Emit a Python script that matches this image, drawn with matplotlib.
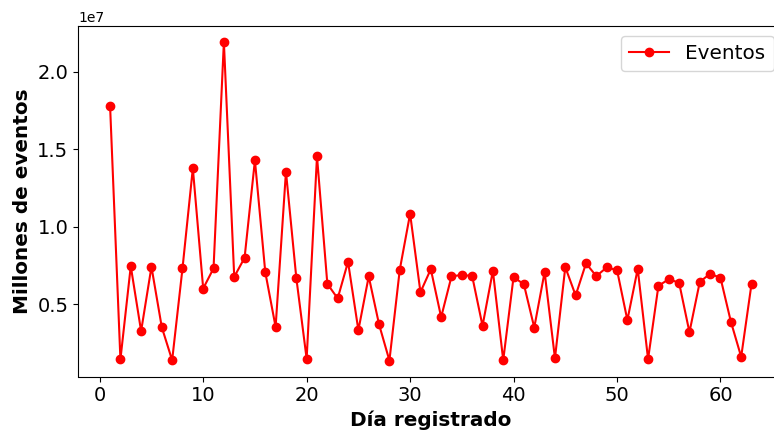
import matplotlib
matplotlib.use("Agg")
import matplotlib.pyplot as plt

dias = list(range(1, 64))
eventos = [1.783, 0.145, 0.747, 0.328, 0.743, 0.353, 0.140, 0.733, 1.379, 0.603,
           0.733, 2.194, 0.678, 0.801, 1.430, 0.709, 0.355, 1.357, 0.672, 0.149,
           1.456, 0.633, 0.539, 0.775, 0.334, 0.681, 0.371, 0.138, 0.724, 1.085,
           0.579, 0.728, 0.418, 0.681, 0.691, 0.683, 0.362, 0.717, 0.140, 0.678,
           0.629, 0.351, 0.709, 0.153, 0.741, 0.558, 0.765, 0.683, 0.739, 0.722,
           0.399, 0.730, 0.147, 0.620, 0.663, 0.640, 0.321, 0.646, 0.698, 0.672,
           0.390, 0.162, 0.633]
eventos = [v * 1e7 for v in eventos]

fig = plt.figure(figsize=(7.74, 4.30), dpi=100)
ax = fig.add_axes([78/774, 1 - 376.5/430, 705.6/774, 350.5/430])
ax.plot(dias, eventos, color="red", marker="o", linewidth=1.5, markersize=6, label="Eventos")
ax.set_xlabel("Día registrado", fontsize=14.4, fontweight="bold")
ax.set_ylabel("Millones de eventos", fontsize=14.4, fontweight="bold")
ax.tick_params(labelsize=14)
ax.legend(fontsize=14.4, loc="upper right")
fig.savefig("out.png", dpi=100)
